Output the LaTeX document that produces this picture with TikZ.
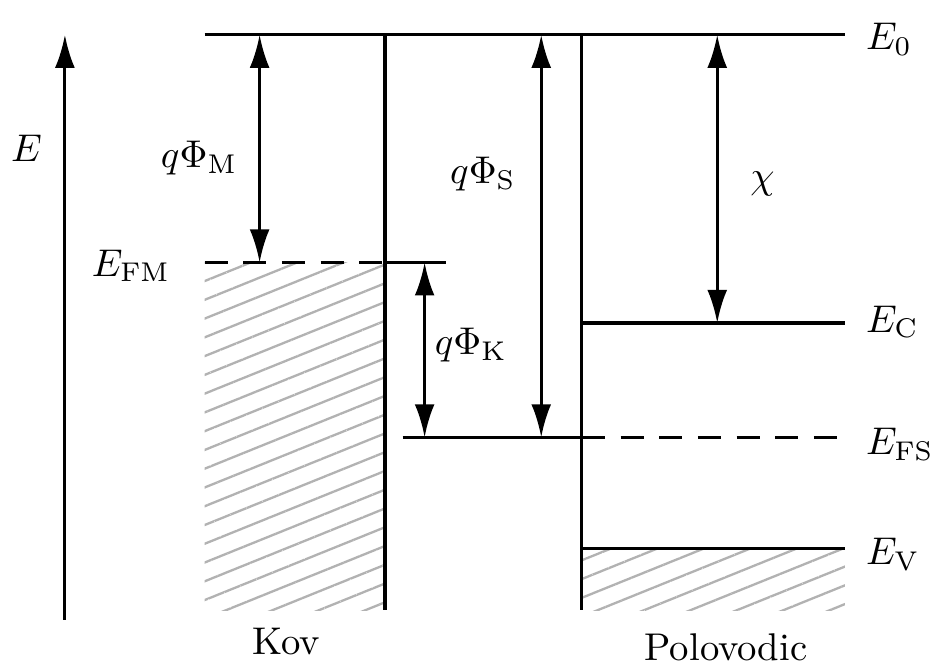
\documentclass[tikz,border=0pt]{standalone}
\usepackage{amsmath, amssymb}
\usepackage{tikz}
\usetikzlibrary{arrows.meta, patterns.meta}

\begin{document}
\begin{tikzpicture}[line width=0.8pt,
  dim/.style={{Latex[length=3mm,width=1.8mm]}-{Latex[length=3mm,width=1.8mm]}},
  hatch/.style={pattern={Lines[angle=22,distance=4.5pt,line width=0.6pt]}, pattern color=black!30},
  lvl/.style={anchor=west, inner sep=0pt}]
  \useasboundingbox (0,0) rectangle (8.545,6.036);
  % energy axis
  \coordinate (ax0) at (0.59,0.4);
  \coordinate (ax1) at (0.59,5.72);
  \draw[-{Latex[length=3mm,width=1.8mm]}] (ax0) -- (ax1);
  \node (e) at (0.24,4.69) {$E$};
  % metal
  \fill[hatch] (1.86,0.49) rectangle (3.5,3.65);
  \draw[dashed, dash pattern=on 6pt off 4pt] (1.86,3.65) -- (3.5,3.65);
  \draw (3.5,3.65) -- (4.05,3.65);
  \draw (3.5,5.72) -- (3.5,0.49);
  \node[anchor=east, inner sep=0pt] (efm) at (1.56,3.62) {$E_{\mathrm{FM}}$};
  % semiconductor
  \fill[hatch] (5.29,0.49) rectangle (7.68,1.05);
  \draw (5.29,5.72) -- (5.29,0.49);
  \draw (5.29,3.1) -- (7.68,3.1);
  \draw (5.29,1.05) -- (7.68,1.05);
  \draw (3.66,2.06) -- (5.29,2.06);
  \draw[dashed, dash pattern=on 6pt off 4pt] (5.29,2.06) -- (7.68,2.06);
  % vacuum level
  \draw (1.86,5.72) -- (7.68,5.72);
  \node[lvl] (e0) at (7.86,5.68) {$E_0$};
  \node[lvl] (ec) at (7.86,3.11) {$E_{\mathrm{C}}$};
  \node[lvl] (efs) at (7.86,2.0) {$E_{\mathrm{FS}}$};
  \node[lvl] (ev) at (7.86,1.0) {$E_{\mathrm{V}}$};
  % work functions
  \coordinate (m0) at (2.36,5.72);
  \coordinate (m1) at (2.36,3.65);
  \coordinate (k0) at (3.86,3.65);
  \coordinate (k1) at (3.86,2.06);
  \coordinate (s0) at (4.92,5.72);
  \coordinate (s1) at (4.92,2.06);
  \coordinate (c0) at (6.52,5.72);
  \coordinate (c1) at (6.52,3.1);
  \draw[dim] (m0) -- (m1);
  \draw[dim] (k0) -- (k1);
  \draw[dim] (s0) -- (s1);
  \draw[dim] (c0) -- (c1);
  \node (phim) at (1.81,4.6) {$q\Phi_{\mathrm{M}}$};
  \node (phik) at (4.28,2.9) {$q\Phi_{\mathrm{K}}$};
  \node (phis) at (4.39,4.45) {$q\Phi_{\mathrm{S}}$};
  \node (chi) at (6.93,4.36) {$\chi$};
  \node (kov) at (2.6,0.2) {Kov};
  \node (pol) at (6.6,0.15) {Polovodic};
\end{tikzpicture}
\end{document}
